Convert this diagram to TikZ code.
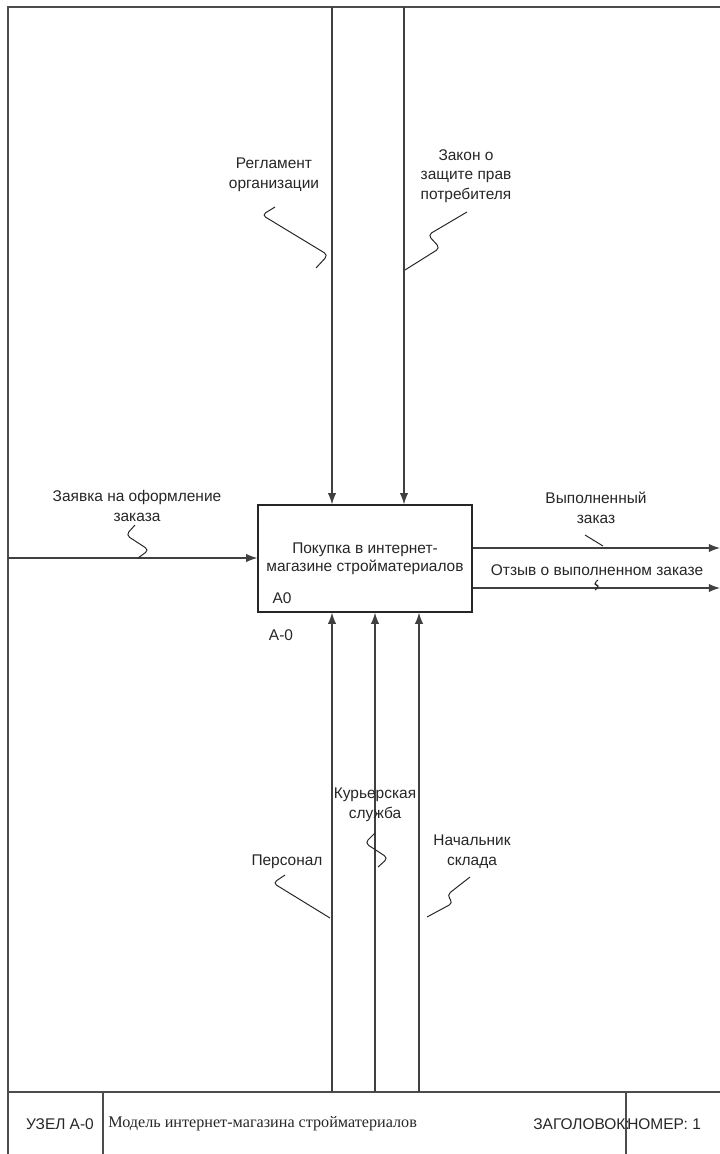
\documentclass[tikz,border=0pt]{standalone}
\usepackage{fontspec}
\setmainfont{Liberation Sans}
\newfontfamily\titlefont{Liberation Serif}
\usetikzlibrary{arrows.meta}

\begin{document}
\begin{tikzpicture}[x=0.025cm, y=-0.025cm,
    arc/.style={-{Latex[length=8pt, width=6pt]}, line width=0.9pt, black!75},
    frameline/.style={line width=0.9pt, black!70},
    squig/.style={line width=0.7pt, black!85, rounded corners=3pt},
    lbl/.style={font=\fontsize{11}{14}\selectfont, text=black!85, align=center, inner sep=0pt},
    funcbox/.style={draw, line width=0.9pt, black!85, text=black!85, align=center,
        minimum width=5.35cm, minimum height=2.675cm, font=\fontsize{11}{12.5}\selectfont}]
    \useasboundingbox (0, 0) rectangle (720, 1154);
    % frame
    \coordinate (tl) at (8, 7);
    \coordinate (tr) at (720, 7);
    \coordinate (bl) at (8, 1154);
    \coordinate (fl) at (8, 1092);
    \coordinate (fr) at (720, 1092);
    \coordinate (s1) at (103, 1092);
    \coordinate (s2) at (626, 1092);
    \draw[frameline] (tr) -- (tl) -- (bl);
    \draw[frameline] (fl) -- (fr);
    \draw[frameline] (s1) -- (s1 |- bl);
    \draw[frameline] (s2) -- (s2 |- bl);
    % function block
    \node[funcbox] (a0) at (365, 558.5) {Покупка в интернет-\\магазине стройматериалов};
    \node[lbl] (a0num) at (282, 598) {A0};
    \node[lbl] (nodeid) at (281, 635) {A-0};
    % controls
    \coordinate (c1) at (332, 7);
    \coordinate (c2) at (404, 7);
    \draw[arc] (c1) -- (c1 |- a0.north);
    \draw[arc] (c2) -- (c2 |- a0.north);
    \node[lbl] (reg) at (274, 175) {Регламент\\организации};
    \node[lbl] (law) at (466, 176) {Закон о\\защите прав\\потребителя};
    \draw[squig] (275, 207) -- (262, 215) -- (328, 255) -- (316, 268);
    \draw[squig] (467, 212) -- (428, 235) -- (440, 248) -- (405, 270);
    % input
    \coordinate (i1) at (8, 558);
    \draw[arc] (i1) -- (i1 -| a0.west);
    \node[lbl] (order) at (137, 506) {Заявка на оформление\\заказа};
    \draw[squig] (135, 525) -- (126, 535) -- (149, 550) -- (138, 558);
    % outputs
    \coordinate (o1) at (720, 548);
    \coordinate (o2) at (720, 588);
    \draw[arc] (o1 -| a0.east) -- (o1);
    \draw[arc] (o2 -| a0.east) -- (o2);
    \node[lbl] (done) at (596, 508) {Выполненный\\заказ};
    \node[lbl] (review) at (597, 570) {Отзыв о выполненном заказе};
    \draw[squig] (585, 535) -- (603, 546);
    \draw[squig] (598, 580) -- (593, 584) -- (600, 586) -- (595, 590);
    % mechanisms
    \coordinate (m1) at (332, 1092);
    \coordinate (m2) at (375, 1092);
    \coordinate (m3) at (419, 1092);
    \draw[arc] (m1) -- (m1 |- a0.south);
    \draw[arc] (m2) -- (m2 |- a0.south);
    \draw[arc] (m3) -- (m3 |- a0.south);
    \node[lbl] (courier) at (375, 805) {Курьерская\\служба};
    \node[lbl] (staff) at (287, 862) {Персонал};
    \node[lbl] (chief) at (472, 852) {Начальник\\склада};
    \draw[squig] (375, 833) -- (365, 843) -- (388, 858) -- (378, 867);
    \draw[squig] (285, 875) -- (273, 883) -- (330, 918);
    \draw[squig] (470, 877) -- (447, 895) -- (453, 903) -- (427, 917);
    % footer
    \node[lbl] (node) at (60, 1124) {УЗЕЛ A-0};
    \node[lbl, font=\titlefont\fontsize{11.5}{14}\selectfont, anchor=west] (title) at (108, 1124) {Модель интернет-магазина стройматериалов};
    \node[lbl, anchor=east] (head) at (630, 1124) {ЗАГОЛОВОК:};
    \node[lbl, anchor=west] (number) at (627, 1124) {НОМЕР: 1};
\end{tikzpicture}
\end{document}
